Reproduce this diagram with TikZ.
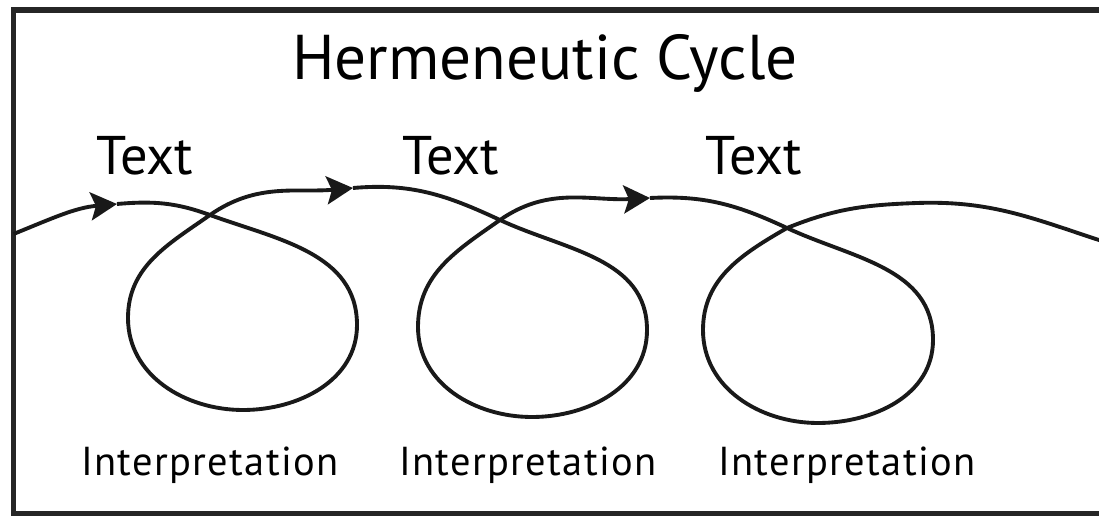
\documentclass[tikz,border=0pt]{standalone}
\usepackage{fontspec}
\setmainfont{PT Sans}
\usetikzlibrary{arrows.meta}

\tikzset{
  curveline/.style={line width=2.2pt,black!90},
  curvetip/.style={curveline,-{Stealth[length=15pt,width=16pt,inset=3pt]}}
}

\begin{document}
\begin{tikzpicture}[x=0.02cm,y=0.02cm]
            \useasboundingbox (0,0) rectangle (1099,518);

            % Frame
            \draw[line width=3pt,black!85] (1105,508) -- (13.5,508) -- (13.5,4.5) -- (1105,4.5);

            % Title
            \node[anchor=base,font=\fontsize{36}{40}\selectfont] (title) at (545,438) {Hermeneutic Cycle};

            % Text labels
            \foreach \n/\x in {1/145,2/451,3/754}
                \node[anchor=base,font=\fontsize{31}{34}\selectfont] (text\n) at (\x,343) {Text};

            % Interpretation labels
            \foreach \n/\x in {1/210,2/528,3/847}
                \node[anchor=base,font=\fontsize{23}{27}\selectfont\addfontfeatures{LetterSpace=3.5}] (interp\n) at (\x,43) {Interpretation};

            % Points of the curve
            \coordinate (start) at (13.5,284);
            \coordinate (a1) at (117,314);
            \coordinate (x1) at (210,303);
            \coordinate (r1) at (357,193);
            \coordinate (b1) at (243,108);
            \coordinate (l1) at (128,200);
            \coordinate (a2) at (353,330);
            \coordinate (x2) at (500,298);
            \coordinate (r2) at (647,188);
            \coordinate (b2) at (532,101);
            \coordinate (l2) at (418,191);
            \coordinate (a3) at (650,320);
            \coordinate (x3) at (787,290);
            \coordinate (r3) at (933,178);
            \coordinate (b3) at (818,95);
            \coordinate (l3) at (703,188);
            \coordinate (top) at (917,315);
            \coordinate (finish) at (1105,276);

            % Curve with its three loops
            \draw[curvetip] (start) to[out=22,in=185] (a1);
            \draw[curveline] (a1) to[out=5,in=160] (x1) to[out=-20,in=90] (r1)
                to[out=-90,in=0] (b1) to[out=180,in=-90] (l1) to[out=90,in=-145] (x1);
            \draw[curvetip] (x1) to[out=35,in=185] (a2);
            \draw[curveline] (a2) to[out=5,in=155] (x2) to[out=-25,in=90] (r2)
                to[out=-90,in=0] (b2) to[out=180,in=-90] (l2) to[out=90,in=-145] (x2);
            \draw[curvetip] (x2) to[out=35,in=183] (a3);
            \draw[curveline] (a3) to[out=3,in=155] (x3) to[out=-25,in=90] (r3)
                to[out=-90,in=0] (b3) to[out=180,in=-90] (l3) to[out=90,in=-150] (x3)
                to[out=22,in=182] (top) to[out=2,in=162] (finish);
        \end{tikzpicture}
\end{document}
